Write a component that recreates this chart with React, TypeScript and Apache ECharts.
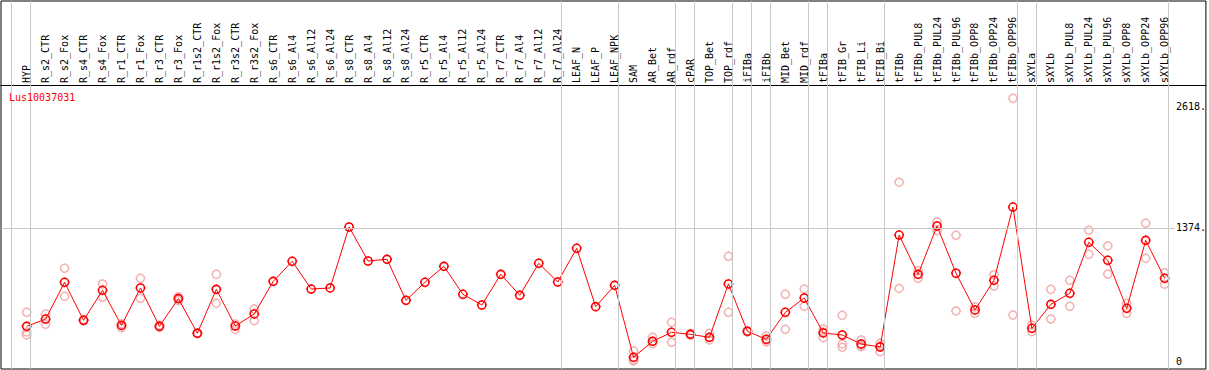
import React, { useEffect, useRef } from "react";
import * as echarts from "echarts";

const geneName = "Lus10037031";

const categories = [
  "HYP", "R_s2_CTR", "R_s2_Fox", "R_s4_CTR", "R_s4_Fox", "R_r1_CTR", "R_r1_Fox",
  "R_r3_CTR", "R_r3_Fox", "R_r1s2_CTR", "R_r1s2_Fox", "R_r3s2_CTR", "R_r3s2_Fox",
  "R_s6_CTR", "R_s6_Al4", "R_s6_Al12", "R_s6_Al24", "R_s8_CTR", "R_s8_Al4",
  "R_s8_Al12", "R_s8_Al24", "R_r5_CTR", "R_r5_Al4", "R_r5_Al12", "R_r5_Al24",
  "R_r7_CTR", "R_r7_Al4", "R_r7_Al12", "R_r7_Al24", "LEAF_N", "LEAF_P", "LEAF_NPK",
  "SAM", "AR_Bet", "AR_rdf", "cPAR", "TOP_Bet", "TOP_rdf", "iFIBa", "iFIBb",
  "MID_Bet", "MID_rdf", "tFIBa", "tFIB_Gr", "tFIB_Li", "tFIB_Bi", "tFIBb",
  "tFIBb_PUL8", "tFIBb_PUL24", "tFIBb_PUL96", "tFIBb_OPP8", "tFIBb_OPP24",
  "tFIBb_OPP96", "sXYLa", "sXYLb", "sXYLb_PUL8", "sXYLb_PUL24", "sXYLb_PUL96",
  "sXYLb_OPP8", "sXYLb_OPP24", "sXYLb_OPP96",
];

// mean expression per sample
const meanValues = [
  363, 438, 815, 425, 733, 372, 757, 363, 648, 292, 743, 366, 490,
  825, 1031, 746, 757, 1383, 1034, 1051, 630, 815, 979, 692, 582,
  897, 681, 1010, 818, 1164, 565, 784,
  45, 209, 302, 281, 250, 798, 312, 230, 507, 654,
  295, 274, 182, 151,
  1300, 897, 1393, 908, 531, 836, 1588,
  343, 589, 702, 1226, 1041, 548, 1246, 856,
];

// replicate values (null = none shown)
const rep1 = [
  507, 490, 959, 430, 798, 387, 856, 373, 668, 294, 897, 387, 541,
  null, null, null, null, null, null, null, null, null, null, null, null,
  null, null, null, null, null, null, null,
  110, 250, 404, 290, 291, 1082, 318, 264, 692, 746,
  336, 476, 223, 189,
  1843, 934, 1437, 1298, 562, 893, 2704,
  377, 743, 836, 1349, 1188, 600, 1421, 914,
];
const rep2 = [
  305, 384, 671, 420, 661, 349, 651, 352, 628, 290, 600, 332, 421,
  null, null, null, null, null, null, null, null, null, null, null, null,
  null, null, null, null, null, null, null,
  18, 182, 199, 272, 223, 507, 306, 223, 332, 569,
  246, 182, 154, 103,
  752, 856, 1345, 521, 497, 777, 479,
  308, 438, 569, 1103, 900, 497, 1062, 795,
];
const rep3 = [
  275, null, null, null, null, null, null, null, null, null, null, null, null,
  null, null, null, null, null, null, null, null, null, null, null, null,
  null, null, null, null, null, null, null,
  8, null, null, null, null, null, null, 204, null, null,
  305, 148, 170, 160,
  null, null, null, null, null, null, null,
  null, null, null, null, null, null, null, null,
];

// index of the last sample of each group (a separator follows it)
const groupEnds = [-1, 0, 28, 31, 34, 35, 37, 38, 39, 41, 42, 45, 52, 53, 60];

const yTickValues = [0, 1374, 2618];
const gridValue = 1374;

const MARK =
  "path://M1,5 A4,4 0 1,1 9,5 A4,4 0 1,1 1,5 Z M5,0 L5,1 M5,9 L5,10 M0,5 L1,5 M9,5 L10,5";

const FONT = "'DejaVu Sans Mono', monospace";

export default function App() {
  const ref = useRef<HTMLDivElement>(null);

  useEffect(() => {
    document.body.style.margin = "0";
    if (!ref.current) return;
    const chart = echarts.init(ref.current, undefined, { renderer: "svg" });

    const xMin = -1.3526;
    const xMax = 62.174;

    const repData: [number, number][] = [];
    [rep1, rep2, rep3].forEach((arr) =>
      arr.forEach((v, i) => {
        if (v !== null && v !== undefined) repData.push([i, v as number]);
      })
    );

    const option: any = {
      animation: false,
      title: {
        text: geneName,
        left: 9,
        top: 92,
        padding: 0,
        textStyle: { color: "#ff0000", fontSize: 10, fontWeight: "normal", fontFamily: FONT },
      },
      grid: {
        left: 1,
        right: 1,
        top: 1,
        bottom: 1,
        show: true,
        borderColor: "#000",
        borderWidth: 1,
        backgroundColor: "#fff",
      },
      xAxis: {
        type: "value",
        position: "top",
        offset: -84,
        min: xMin,
        max: xMax,
        splitLine: { show: false },
        axisTick: { show: false },
        axisLine: { show: true, onZero: false, lineStyle: { color: "#000", width: 1 } },
        axisLabel: { show: false },
      },
      yAxis: {
        type: "value",
        position: "right",
        offset: -31,
        min: -74.9,
        max: 3703,
        splitLine: { show: false },
        axisTick: { show: false },
        axisLine: { show: false },
        axisLabel: {
          show: true,
          margin: 1,
          fontSize: 10,
          fontFamily: FONT,
          color: "#000",
          customValues: yTickValues,
          formatter: (v: number) => (v === 0 ? "0" : `${v}.`),
        },
      },
      series: [
        {
          type: "scatter",
          data: repData,
          symbol: MARK,
          symbolSize: 10,
          itemStyle: { color: "rgba(0,0,0,0)", borderColor: "#f0a0a0", borderWidth: 1.5 },
          z: 2,
          silent: true,
          markLine: {
            silent: true,
            symbol: "none",
            label: { show: false },
            lineStyle: { color: "#c8c8c8", width: 1, type: "solid" },
            data: [
              ...groupEnds.map((g) => ({ xAxis: g + 0.21 })),
              [
                { coord: [xMin, gridValue] },
                { coord: [60.54, gridValue] },
              ],
            ],
          },
        },
        {
          type: "line",
          data: meanValues.map((v, i) => [i, v]),
          symbol: MARK,
          symbolSize: 10,
          showSymbol: true,
          showAllSymbol: true,
          lineStyle: { color: "#ff0000", width: 1 },
          itemStyle: { color: "rgba(0,0,0,0)", borderColor: "#ff0000", borderWidth: 1.6 },
          z: 3,
          silent: true,
        },
      ],
    };

    chart.setOption(option);

    // sample labels in the header, placed through the x scale
    const labelEls = categories.map((name, i) => {
      const px = chart.convertToPixel({ xAxisIndex: 0 }, i) as number;
      return {
        type: "text",
        x: px,
        y: 83,
        rotation: Math.PI / 2,
        silent: true,
        z: 10,
        style: {
          text: name,
          fill: "#000",
          fontSize: 10,
          fontFamily: FONT,
          align: "left",
          verticalAlign: "middle",
          textAlign: "left",
          textVerticalAlign: "middle",
        },
      };
    });
    chart.setOption({ graphic: labelEls });

    return () => chart.dispose();
  }, []);

  return <div ref={ref} style={{ width: 1209, height: 370 }} />;
}
